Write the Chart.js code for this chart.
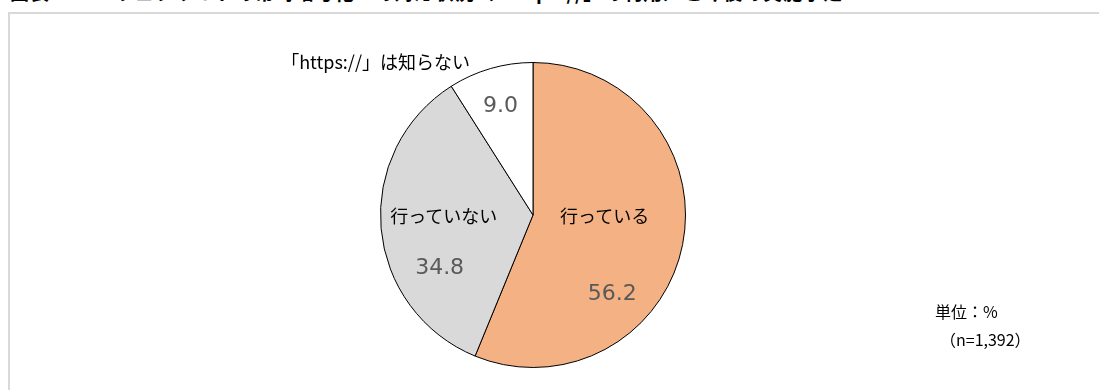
<!DOCTYPE html>
<html lang="ja">
<head>
<meta charset="utf-8">
<script src="https://cdn.jsdelivr.net/npm/chart.js@4.4.0/dist/chart.umd.min.js"></script>
<style>
  html,body{margin:0;padding:0;background:#fff;width:1099px;height:390px;overflow:hidden;}
  body{position:relative;font-family:"Noto Sans CJK JP","Noto Sans",sans-serif;}
  #frame{position:absolute;left:8px;top:12px;width:1100px;height:400px;border:2px solid #d9d9d9;box-sizing:border-box;}
  #title{position:absolute;left:10px;top:-18px;font-size:19px;line-height:19px;font-weight:bold;white-space:nowrap;color:#000;letter-spacing:1px;}
  #cv{position:absolute;left:0;top:0;}
  .lbl{position:absolute;white-space:nowrap;transform:translate(-50%,-50%);line-height:1;}
  .name{font-size:18px;color:#000;}
  .num{font-size:22px;color:#595959;font-family:"DejaVu Sans",sans-serif;}
  .note{position:absolute;font-size:16px;color:#000;white-space:nowrap;line-height:1;}
</style>
</head>
<body>
<div id="title">図表4-13　ウェブサイトの常時暗号化への対応状況（「https://」の利用）と今後の実施予定</div>
<div id="frame"></div>
<canvas id="cv" width="1099" height="390"></canvas>
<div id="labels"></div>
<div class="note" style="left:935px;top:303px;">単位：%</div>
<div class="note" style="left:940px;top:331px;">（n=1,392）</div>
<script>
const categories = ["行っている", "行っていない", "「https://」は知らない"];
const values = [56.2, 34.8, 9.0];
const valueLabels = ["56.2", "34.8", "9.0"];
const colors = ["#f4b183", "#d9d9d9", "#ffffff"];

// label placement: [radius fraction, angle in degrees clockwise from top]
const namePlace = [[0.47, 90], [0.585, 270], [1.445, 314.4]];
const numPlace  = [[0.73, 134.6], [0.70, 241], [0.75, 343.5]];

const labelsDiv = document.getElementById('labels');

const labelPlugin = {
  id: 'domLabels',
  afterDraw(chart) {
    labelsDiv.innerHTML = '';
    const meta = chart.getDatasetMeta(0);
    meta.data.forEach((arc, i) => {
      const cx = arc.x, cy = arc.y, R = arc.outerRadius;
      const place = (p, cls, text) => {
        const a = p[1] * Math.PI / 180;
        const x = cx + R * p[0] * Math.sin(a);
        const y = cy - R * p[0] * Math.cos(a);
        const d = document.createElement('div');
        d.className = 'lbl ' + cls;
        d.style.left = x + 'px';
        d.style.top = y + 'px';
        d.textContent = text;
        labelsDiv.appendChild(d);
      };
      place(namePlace[i], 'name', categories[i]);
      place(numPlace[i], 'num', valueLabels[i]);
    });
  }
};

new Chart(document.getElementById('cv'), {
  type: 'pie',
  data: {
    labels: categories,
    datasets: [{
      data: values,
      backgroundColor: colors,
      borderColor: '#000000',
      borderWidth: 1
    }]
  },
  options: {
    responsive: false,
    animation: false,
    rotation: 0,
    layout: { padding: { left: 380, right: 413, top: 62, bottom: 22 } },
    plugins: { legend: { display: false }, tooltip: { enabled: false } }
  },
  plugins: [labelPlugin]
});
</script>
</body>
</html>
